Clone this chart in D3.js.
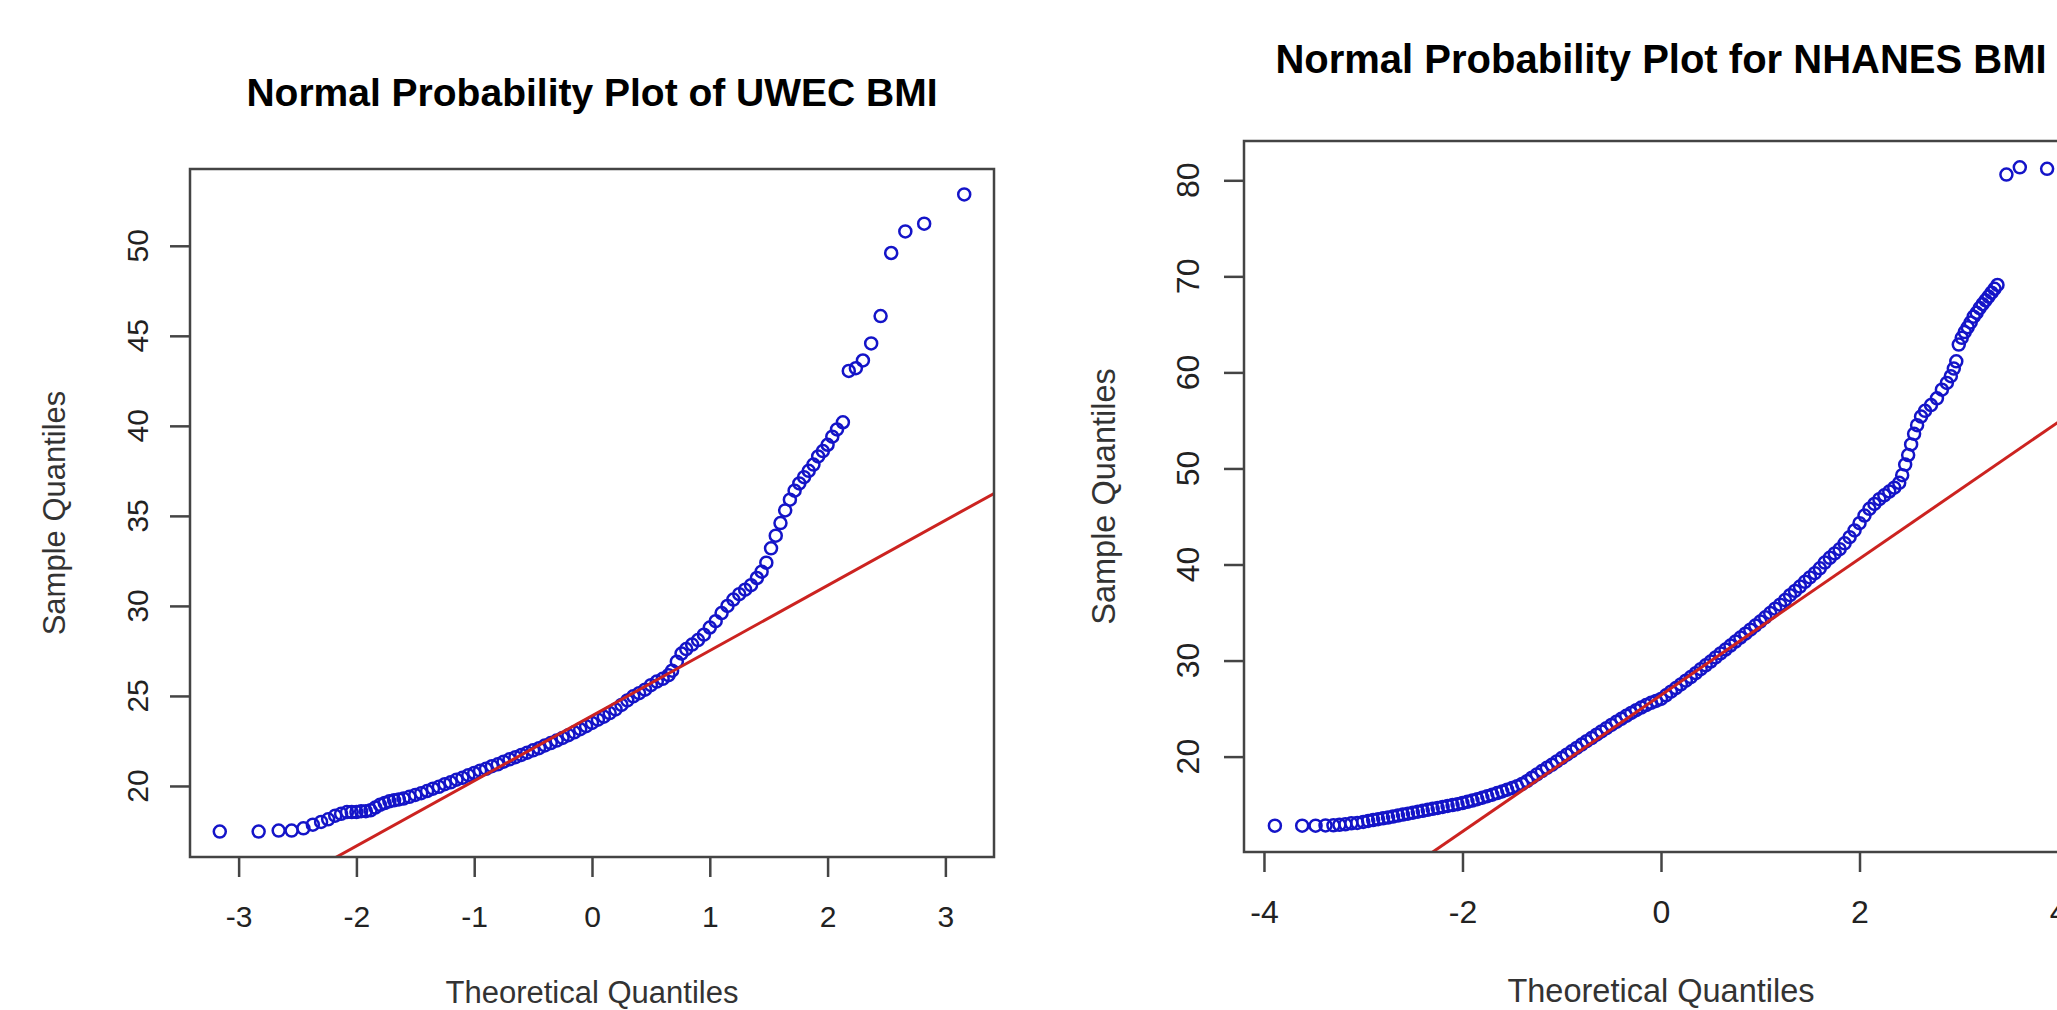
<!DOCTYPE html>
<html>
<head>
<meta charset="utf-8">
<script src="https://cdn.jsdelivr.net/npm/d3@7"></script>
<style>
  body { margin: 0; background: #fff; }
  svg { display: block; }
</style>
</head>
<body>
<div id="chart"></div>
<script>
// values: [theoretical quantile, sample quantile]
var uwecTitle = "Normal Probability Plot of UWEC BMI";
var nhanesTitle = "Normal Probability Plot for NHANES BMI";
var xLabel = "Theoretical Quantiles";
var yLabel = "Sample Quantiles";

var uwecXTicks = [-3, -2, -1, 0, 1, 2, 3];
var uwecYTicks = [20, 25, 30, 35, 40, 45, 50];
var nhanesXTicks = [-4, -2, 0, 2, 4];
var nhanesYTicks = [20, 30, 40, 50, 60, 70, 80];

// sample quartiles, qqline goes through these
var uwecQuartiles = [21.46, 26.34];
var nhanesQuartiles = [21.61, 31.19];

var uwecPoints = [
  [-3.16,17.47],[-2.83,17.47],[-2.66,17.52],[-2.55,17.52],[-2.45,17.65],[-2.37,17.85],[-2.30,18.0],
  [-2.24,18.15],[-2.18,18.35],[-2.13,18.45],[-2.08,18.55],[-2.04,18.55],[-2.00,18.55],[-1.96,18.6],
  [-1.92,18.6],[-1.88,18.65],[-1.84,18.8],[-1.80,18.95],[-1.76,19.05],[-1.72,19.15],[-1.68,19.2],
  [-1.64,19.25],[-1.60,19.3],[-1.55,19.4],[-1.50,19.5],[-1.45,19.6],[-1.40,19.72],[-1.35,19.85],
  [-1.30,19.95],[-1.25,20.1],[-1.20,20.2],[-1.15,20.35],[-1.10,20.45],[-1.05,20.6],[-1.00,20.72],
  [-0.95,20.85],[-0.90,20.95],[-0.85,21.1],[-0.80,21.2],[-0.75,21.35],[-0.70,21.48],[-0.65,21.6],
  [-0.60,21.72],[-0.55,21.85],[-0.50,21.98],[-0.45,22.1],[-0.40,22.25],[-0.35,22.38],[-0.30,22.52],
  [-0.25,22.67],[-0.20,22.82],[-0.15,22.98],[-0.10,23.15],[-0.05,23.32],[0.00,23.5],[0.05,23.68],
  [0.10,23.85],[0.15,24.05],[0.20,24.25],[0.25,24.5],[0.30,24.75],[0.35,24.98],[0.40,25.15],
  [0.45,25.35],[0.50,25.6],[0.55,25.8],[0.60,25.95],[0.65,26.15],[0.68,26.4],[0.72,26.9],
  [0.76,27.35],[0.80,27.6],[0.85,27.85],[0.90,28.1],[0.95,28.4],[1.00,28.8],[1.05,29.15],
  [1.10,29.6],[1.15,30.0],[1.20,30.35],[1.25,30.65],[1.30,30.9],[1.35,31.15],[1.40,31.55],
  [1.44,31.9],[1.48,32.4],[1.52,33.2],[1.56,33.9],[1.60,34.6],[1.64,35.3],[1.68,35.9],
  [1.72,36.4],[1.76,36.8],[1.80,37.15],[1.84,37.5],[1.88,37.85],[1.92,38.3],[1.96,38.6],
  [2.00,38.95],[2.04,39.4],[2.08,39.8],[2.13,40.2],[2.18,43.05],[2.24,43.2],[2.30,43.63],
  [2.37,44.58],[2.45,46.1],[2.54,49.6],[2.66,50.8],[2.82,51.23],[3.16,52.85]
];

var nhanesPoints = [
  [-3.89,12.81],[-3.615,12.81],[-3.48,12.81],[-3.38,12.83],[-3.30,12.85],[-3.24,12.9],[-3.18,12.95],
  [-3.12,13.05],[-3.06,13.1],[-3.00,13.2],[-2.95,13.3],[-2.90,13.4],[-2.85,13.48],[-2.80,13.57],
  [-2.75,13.66],[-2.70,13.76],[-2.65,13.86],[-2.60,13.96],[-2.55,14.06],[-2.50,14.16],[-2.45,14.26],
  [-2.40,14.36],[-2.35,14.46],[-2.30,14.56],[-2.25,14.66],[-2.20,14.76],[-2.15,14.86],[-2.10,14.95],
  [-2.05,15.05],[-2.00,15.17],[-1.95,15.3],[-1.90,15.43],[-1.85,15.57],[-1.80,15.72],[-1.75,15.88],
  [-1.70,16.03],[-1.65,16.2],[-1.60,16.37],[-1.55,16.55],[-1.50,16.73],[-1.45,16.92],[-1.40,17.15],
  [-1.35,17.45],[-1.30,17.8],[-1.25,18.15],[-1.20,18.5],[-1.15,18.83],[-1.10,19.15],[-1.05,19.5],
  [-1.00,19.85],[-0.95,20.2],[-0.90,20.55],[-0.85,20.9],[-0.80,21.25],[-0.75,21.6],[-0.70,21.93],
  [-0.65,22.28],[-0.60,22.62],[-0.55,22.96],[-0.50,23.3],[-0.45,23.62],[-0.40,23.94],[-0.35,24.25],
  [-0.30,24.55],[-0.25,24.83],[-0.20,25.1],[-0.15,25.36],[-0.10,25.6],[-0.05,25.8],[0.00,26.0],
  [0.05,26.38],[0.10,26.76],[0.15,27.14],[0.20,27.52],[0.25,27.9],[0.30,28.28],[0.35,28.68],
  [0.40,29.1],[0.45,29.5],[0.50,29.9],[0.55,30.32],[0.60,30.74],[0.65,31.15],[0.70,31.56],
  [0.75,31.98],[0.80,32.4],[0.85,32.8],[0.90,33.22],[0.95,33.64],[1.00,34.06],[1.05,34.5],
  [1.10,34.95],[1.15,35.4],[1.20,35.82],[1.25,36.3],[1.30,36.8],[1.35,37.25],[1.40,37.7],
  [1.45,38.2],[1.50,38.65],[1.55,39.1],[1.60,39.6],[1.65,40.2],[1.70,40.7],[1.75,41.15],
  [1.80,41.6],[1.85,42.2],[1.90,42.85],[1.95,43.55],[2.00,44.3],[2.05,45.1],[2.10,45.8],
  [2.15,46.3],[2.20,46.8],[2.25,47.2],[2.30,47.6],[2.35,48.0],[2.40,48.5],[2.43,49.3],
  [2.46,50.4],[2.49,51.4],[2.52,52.5],[2.55,53.6],[2.58,54.5],[2.62,55.4],[2.66,56.0],
  [2.72,56.6],[2.78,57.3],[2.83,58.2],[2.88,58.9],[2.92,59.6],[2.95,60.4],[2.975,61.15],
  [3.00,62.9],[3.03,63.6],[3.06,64.2],[3.09,64.7],[3.12,65.2],[3.15,65.8],[3.18,66.2],
  [3.21,66.7],[3.24,67.1],[3.27,67.5],[3.30,67.9],[3.33,68.3],[3.36,68.7],[3.39,69.1],
  [3.48,80.6],[3.615,81.35],[3.89,81.2]
];

var font = "'Liberation Sans', Arial, sans-serif";
var z1 = -0.6744898, z3 = 0.6744898; // qnorm(.25), qnorm(.75)

var svg = d3.select("#chart")
  .append("svg")
    .attr("width", 2057)
    .attr("height", 1010)
    .style("background", "#fff");

drawPanel({
  id: "uwec",
  points: uwecPoints,
  quartiles: uwecQuartiles,
  title: uwecTitle,
  xTicks: uwecXTicks,
  yTicks: uwecYTicks,
  box: [190, 169, 994, 857],   // left, top, right, bottom
  titleY: 106, titleSize: 39,
  tickSize: 30, xTickPad: 29, yTickX: 148,
  labelSize: 31, xLabelY: 1003, yLabelX: 65
});

drawPanel({
  id: "nhanes",
  points: nhanesPoints,
  quartiles: nhanesQuartiles,
  title: nhanesTitle,
  xTicks: nhanesXTicks,
  yTicks: nhanesYTicks,
  box: [1244, 141, 2078, 852],
  titleY: 73, titleSize: 40,
  tickSize: 32, xTickPad: 28, yTickX: 1199,
  labelSize: 32.5, xLabelY: 1002, yLabelX: 1115
});

function drawPanel(p){
  var left = p.box[0], top = p.box[1], right = p.box[2], bottom = p.box[3];
  var g = svg.append("g");

  // R style limits: data range stretched 4% each side
  var xr = d3.extent(p.points, function(d){ return d[0]; });
  var yr = d3.extent(p.points, function(d){ return d[1]; });
  var xp = (xr[1] - xr[0]) * 0.04, yp = (yr[1] - yr[0]) * 0.04;

  var x = d3.scaleLinear().domain([xr[0] - xp, xr[1] + xp]).range([left, right]);
  var y = d3.scaleLinear().domain([yr[0] - yp, yr[1] + yp]).range([bottom, top]);

  g.append("clipPath")
      .attr("id", "clip-" + p.id)
    .append("rect")
      .attr("x", left).attr("y", top)
      .attr("width", right - left).attr("height", bottom - top);

  // points (pch = 1)
  g.append("g")
    .selectAll("circle")
    .data(p.points)
    .enter()
    .append("circle")
      .attr("cx", function(d){ return x(d[0]); })
      .attr("cy", function(d){ return y(d[1]); })
      .attr("r", 6)
      .style("fill", "none")
      .style("stroke", "#1414c8")
      .style("stroke-width", 2.5);

  // qqline through the quartiles
  var slope = (p.quartiles[1] - p.quartiles[0]) / (z3 - z1);
  var intercept = p.quartiles[0] - slope * z1;
  var xd = x.domain();
  g.append("line")
      .attr("clip-path", "url(#clip-" + p.id + ")")
      .attr("x1", x(xd[0])).attr("y1", y(intercept + slope * xd[0]))
      .attr("x2", x(xd[1])).attr("y2", y(intercept + slope * xd[1]))
      .style("stroke", "#cc2320")
      .style("stroke-width", 3);

  // box
  g.append("rect")
      .attr("x", left).attr("y", top)
      .attr("width", right - left).attr("height", bottom - top)
      .style("fill", "none")
      .style("stroke", "#444")
      .style("stroke-width", 2.5);

  // x axis
  var xa = g.append("g")
      .attr("transform", "translate(0," + bottom + ")")
      .call(d3.axisBottom(x)
        .tickValues(p.xTicks)
        .tickSize(20)
        .tickPadding(p.xTickPad)
        .tickFormat(function(d){ return String(d); }));
  xa.select(".domain").remove();
  xa.selectAll("line").style("stroke", "#444").style("stroke-width", 2.5);
  xa.selectAll("text")
      .style("font-family", font)
      .style("font-size", p.tickSize + "px")
      .style("fill", "#222");

  // y axis, labels turned like R does
  var ya = g.append("g")
      .attr("transform", "translate(" + left + ",0)")
      .call(d3.axisLeft(y).tickValues(p.yTicks).tickSize(20).tickFormat(""));
  ya.select(".domain").remove();
  ya.selectAll("line").style("stroke", "#444").style("stroke-width", 2.5);

  g.append("g")
    .selectAll("text")
    .data(p.yTicks)
    .enter()
    .append("text")
      .attr("transform", function(d){ return "translate(" + p.yTickX + "," + y(d) + ") rotate(-90)"; })
      .attr("text-anchor", "middle")
      .style("font-family", font)
      .style("font-size", p.tickSize + "px")
      .style("fill", "#222")
      .text(function(d){ return d; });

  // titles
  g.append("text")
      .attr("x", (left + right) / 2)
      .attr("y", p.titleY)
      .attr("text-anchor", "middle")
      .style("font-family", font)
      .style("font-weight", "bold")
      .style("font-size", p.titleSize + "px")
      .style("fill", "#000")
      .text(p.title);

  g.append("text")
      .attr("x", (left + right) / 2)
      .attr("y", p.xLabelY)
      .attr("text-anchor", "middle")
      .style("font-family", font)
      .style("font-size", p.labelSize + "px")
      .style("fill", "#333")
      .text(xLabel);

  g.append("text")
      .attr("transform", "translate(" + p.yLabelX + "," + (top + bottom) / 2 + ") rotate(-90)")
      .attr("text-anchor", "middle")
      .style("font-family", font)
      .style("font-size", p.labelSize + "px")
      .style("fill", "#333")
      .text(yLabel);
}
</script>
</body>
</html>
